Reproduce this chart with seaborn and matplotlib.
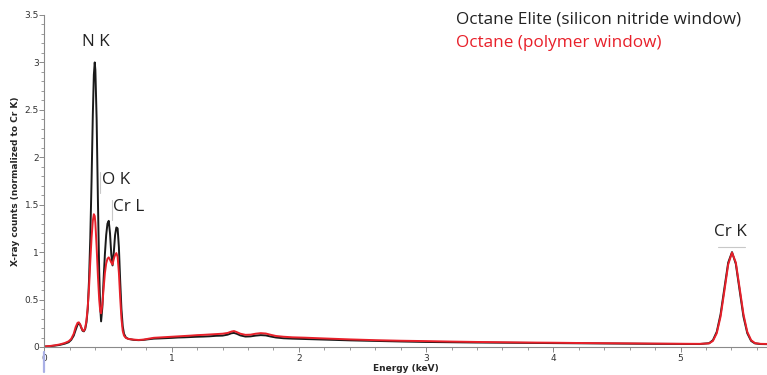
from pathlib import Path

import numpy as np
import pandas as pd
import seaborn as sns
import matplotlib as mpl

mpl.use("Agg")

import matplotlib.pyplot as plt
from matplotlib.ticker import MultipleLocator, FuncFormatter


BASE_DIR = Path.cwd()

# energia (keV)
energy_kev = [
    0.00, 0.04, 0.08, 0.12, 0.16, 0.19, 0.21, 0.23, 0.245, 0.26,
    0.27, 0.28, 0.29, 0.30, 0.31, 0.32, 0.33, 0.34, 0.35, 0.36,
    0.37, 0.38, 0.388, 0.395, 0.40, 0.41, 0.42, 0.43, 0.438, 0.445,
    0.455, 0.465, 0.475, 0.485, 0.495, 0.505, 0.515, 0.525, 0.535, 0.545,
    0.555, 0.565, 0.575, 0.585, 0.595, 0.605, 0.615, 0.625, 0.64, 0.66,
    0.70, 0.74, 0.78, 0.82, 0.86, 0.90, 0.95, 1.00, 1.05, 1.10,
    1.15, 1.20, 1.25, 1.30, 1.35, 1.40, 1.44, 1.47, 1.49, 1.51,
    1.54, 1.58, 1.62, 1.66, 1.70, 1.74, 1.78, 1.82, 1.88, 1.95,
    2.05, 2.20, 2.40, 2.60, 2.80, 3.00, 3.20, 3.40, 3.60, 3.80,
    4.00, 4.20, 4.40, 4.60, 4.80, 5.00, 5.15, 5.225, 5.255, 5.285,
    5.315, 5.345, 5.375, 5.405, 5.435, 5.465, 5.495, 5.525, 5.555, 5.585,
    5.63, 5.68,
]

# Octane Elite (janela de nitreto de silicio) - preto
counts_elite = [
    0.004, 0.008, 0.014, 0.022, 0.035, 0.05, 0.075, 0.12, 0.18, 0.235,
    0.25, 0.235, 0.20, 0.17, 0.165, 0.19, 0.26, 0.40, 0.70, 1.15,
    1.75, 2.45, 2.87, 3.00, 2.92, 2.40, 1.55, 0.80, 0.42, 0.27,
    0.42, 0.72, 0.98, 1.18, 1.30, 1.33, 1.20, 0.98, 0.86, 1.00,
    1.18, 1.26, 1.25, 1.05, 0.70, 0.40, 0.22, 0.14, 0.10, 0.085,
    0.075, 0.072, 0.075, 0.082, 0.088, 0.09, 0.093, 0.096, 0.10, 0.102,
    0.105, 0.108, 0.11, 0.113, 0.118, 0.12, 0.13, 0.145, 0.148, 0.14,
    0.122, 0.11, 0.112, 0.12, 0.125, 0.122, 0.11, 0.10, 0.092, 0.088,
    0.084, 0.078, 0.07, 0.064, 0.058, 0.053, 0.05, 0.047, 0.045, 0.043,
    0.041, 0.039, 0.037, 0.035, 0.033, 0.032, 0.031, 0.04, 0.072, 0.16,
    0.345, 0.62, 0.89, 1.00, 0.875, 0.595, 0.32, 0.145, 0.064, 0.038,
    0.031, 0.03,
]

# Octane (janela de polimero) - vermelho
counts_octane = [
    0.006, 0.010, 0.017, 0.027, 0.042, 0.06, 0.085, 0.14, 0.21, 0.255,
    0.26, 0.24, 0.205, 0.175, 0.17, 0.20, 0.28, 0.42, 0.62, 0.90,
    1.15, 1.33, 1.40, 1.38, 1.31, 1.05, 0.75, 0.50, 0.38, 0.355,
    0.45, 0.62, 0.78, 0.88, 0.93, 0.945, 0.92, 0.89, 0.87, 0.93,
    0.97, 0.99, 0.95, 0.78, 0.52, 0.30, 0.17, 0.12, 0.095, 0.085,
    0.078, 0.074, 0.078, 0.088, 0.097, 0.10, 0.104, 0.108, 0.112, 0.116,
    0.12, 0.125, 0.128, 0.132, 0.136, 0.14, 0.148, 0.163, 0.168, 0.158,
    0.14, 0.128, 0.13, 0.14, 0.146, 0.142, 0.128, 0.116, 0.108, 0.102,
    0.098, 0.09, 0.08, 0.072, 0.066, 0.062, 0.057, 0.053, 0.05, 0.047,
    0.045, 0.042, 0.04, 0.038, 0.036, 0.034, 0.033, 0.038, 0.064, 0.145,
    0.32, 0.59, 0.87, 0.995, 0.89, 0.62, 0.345, 0.16, 0.072, 0.041,
    0.033, 0.032,
]

series_names = ["Octane Elite (silicon nitride window)", "Octane (polymer window)"]
series_colors = ["#1a1a1a", "#e8202a"]

peak_labels = ["N K", "O K", "Cr L", "Cr K"]

TEXT_FONT = ["Open Sans", "DejaVu Sans"]
TEXT_SIZE = 12.3


def montar_tabela() -> pd.DataFrame:
    elite = pd.DataFrame({"energy": energy_kev, "counts": counts_elite})
    elite["serie"] = series_names[0]
    octane = pd.DataFrame({"energy": energy_kev, "counts": counts_octane})
    octane["serie"] = series_names[1]
    return pd.concat([elite, octane], ignore_index=True)


def desenhar(df: pd.DataFrame) -> None:
    fig = plt.figure(figsize=(7.67, 3.75), dpi=100)
    ax = fig.add_axes([0.058, 0.0747, 0.942, 0.8853])

    sns.lineplot(
        data=df,
        x="energy",
        y="counts",
        hue="serie",
        palette=dict(zip(series_names, series_colors)),
        linewidth=1.4,
        legend=False,
        estimator=None,
        sort=False,
        ax=ax,
    )

    ax.set_xlim(0, 5.68)
    ax.set_ylim(0, 3.5)

    for lado in ["top", "right"]:
        ax.spines[lado].set_visible(False)
    for lado in ["left", "bottom"]:
        ax.spines[lado].set_color("#8a8a8a")
        ax.spines[lado].set_linewidth(0.8)

    ax.xaxis.set_major_locator(MultipleLocator(1))
    ax.xaxis.set_minor_locator(MultipleLocator(0.2))
    ax.yaxis.set_major_locator(MultipleLocator(0.5))
    ax.yaxis.set_minor_locator(MultipleLocator(0.1))
    fmt = FuncFormatter(lambda v, _: f"{v:g}")
    ax.xaxis.set_major_formatter(fmt)
    ax.yaxis.set_major_formatter(fmt)

    ax.tick_params(which="major", length=3.5, width=0.7, color="#8a8a8a",
                   labelsize=6.5, labelcolor="#333333", pad=1.5)
    ax.tick_params(which="minor", length=2.2, width=0.6, color="#8a8a8a")
    ax.tick_params(axis="y", which="major", pad=0.5)

    ax.set_xlabel("Energy (keV)", fontsize=6.5, fontweight="bold", labelpad=1)
    ax.set_ylabel("X-ray counts (normalized to Cr K)", fontsize=6.5,
                  fontweight="bold")
    ax.yaxis.set_label_coords(-0.034, 0.5)

    # marcador azul abaixo do zero
    ax.plot([0, 0], [-0.05, -0.26], color="#aab0e6", lw=1.6, clip_on=False)

    # rotulos dos picos
    cor_txt = "#222222"
    cor_linha = "#c8c8c8"
    ax.text(0.405, 3.22, peak_labels[0], ha="center", va="center",
            fontsize=TEXT_SIZE, color=cor_txt, family=TEXT_FONT)
    ax.text(0.45, 1.76, peak_labels[1], ha="left", va="center",
            fontsize=TEXT_SIZE, color=cor_txt, family=TEXT_FONT)
    ax.plot([0.436, 0.436], [1.85, 1.62], color=cor_linha, lw=0.8)
    ax.text(0.536, 1.48, peak_labels[2], ha="left", va="center",
            fontsize=TEXT_SIZE, color=cor_txt, family=TEXT_FONT)
    ax.plot([0.531, 0.531], [1.55, 1.34], color=cor_linha, lw=0.8)
    ax.text(5.39, 1.215, peak_labels[3], ha="center", va="center",
            fontsize=TEXT_SIZE, color=cor_txt, family=TEXT_FONT)
    ax.plot([5.295, 5.505], [1.05, 1.05], color=cor_linha, lw=0.8)

    # legenda como texto colorido
    fig.text(0.5945, 0.9467, series_names[0], ha="left", va="center",
             fontsize=TEXT_SIZE, color="#222222", family=TEXT_FONT)
    fig.text(0.5945, 0.8845, series_names[1], ha="left", va="center",
             fontsize=TEXT_SIZE, color=series_colors[1], family=TEXT_FONT)

    fig.savefig(BASE_DIR / "out.png", dpi=100)
    plt.close(fig)


def main() -> None:
    sns.set_theme(style="ticks")
    plt.rcParams["font.family"] = ["DejaVu Sans"]
    df = montar_tabela()
    desenhar(df)


if __name__ == "__main__":
    main()
